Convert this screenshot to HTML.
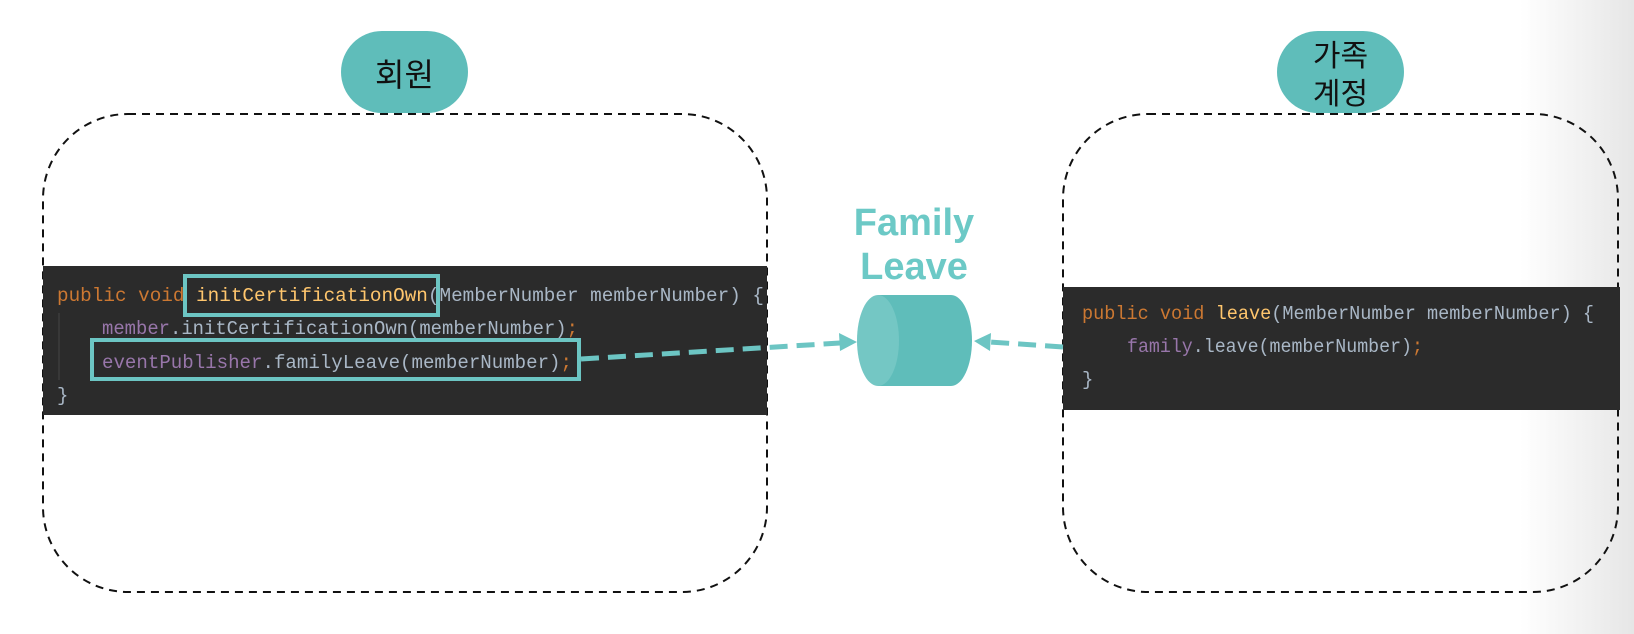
<!DOCTYPE html>
<html><head><meta charset="utf-8"><style>
html,body{margin:0;padding:0;background:#fff}
svg{display:block}
</style></head><body>
<svg width="1634" height="634" viewBox="0 0 1634 634" xmlns="http://www.w3.org/2000/svg">
<defs>
<linearGradient id="g" x1="0" x2="1" y1="0" y2="0">
<stop offset="0" stop-color="#fff"/><stop offset="1" stop-color="#e6e6e6"/>
</linearGradient>
</defs>
<rect x="1520" y="0" width="114" height="634" fill="url(#g)"/>
<!-- boxes -->
<rect x="43" y="114" width="724" height="478" rx="85" fill="none" stroke="#111" stroke-width="2" stroke-dasharray="8,6"/>
<rect x="1063" y="114" width="555" height="478" rx="85" fill="none" stroke="#111" stroke-width="2" stroke-dasharray="8,6"/>
<!-- pills -->
<rect x="341" y="31" width="127" height="82" rx="41" fill="#5fbdba"/>
<text x="404.5" y="86" text-anchor="middle" font-family="Noto Sans CJK KR, sans-serif" font-size="32" fill="#111">회원</text>
<rect x="1277" y="31" width="127" height="82" rx="41" fill="#5fbdba"/>
<text x="1340.5" y="66" text-anchor="middle" font-family="Noto Sans CJK KR, sans-serif" font-size="30" fill="#111">가족</text>
<text x="1340.5" y="104" text-anchor="middle" font-family="Noto Sans CJK KR, sans-serif" font-size="30" fill="#111">계정</text>
<!-- code panels -->
<rect x="43" y="266" width="724" height="149" fill="#2b2b2b"/>
<rect x="1063" y="287" width="557" height="123" fill="#2b2b2b"/>
<g font-family="Liberation Mono, monospace" font-size="19">
<text x="57" y="301" textLength="707" lengthAdjust="spacingAndGlyphs"><tspan fill="#cc7832">public void </tspan><tspan fill="#ffc66d">initCertificationOwn</tspan><tspan fill="#a9b7c6">(MemberNumber memberNumber) {</tspan></text>
<text x="102" y="334" textLength="476" lengthAdjust="spacingAndGlyphs"><tspan fill="#9876aa">member</tspan><tspan fill="#a9b7c6">.initCertificationOwn(memberNumber)</tspan><tspan fill="#cc7832">;</tspan></text>
<text x="102" y="368" textLength="470" lengthAdjust="spacingAndGlyphs"><tspan fill="#9876aa">eventPublisher</tspan><tspan fill="#a9b7c6">.familyLeave(memberNumber)</tspan><tspan fill="#cc7832">;</tspan></text>
<text x="57" y="401" fill="#a9b7c6">}</text>
<text x="1082" y="319" textLength="512" lengthAdjust="spacingAndGlyphs"><tspan fill="#cc7832">public void </tspan><tspan fill="#ffc66d">leave</tspan><tspan fill="#a9b7c6">(MemberNumber memberNumber) {</tspan></text>
<text x="1127" y="352" textLength="296" lengthAdjust="spacingAndGlyphs"><tspan fill="#9876aa">family</tspan><tspan fill="#a9b7c6">.leave(memberNumber)</tspan><tspan fill="#cc7832">;</tspan></text>
<text x="1082" y="385" fill="#a9b7c6">}</text>
</g>
<line x1="59" y1="313" x2="59" y2="380" stroke="#444" stroke-width="1"/>
<!-- highlights -->
<rect x="185" y="276" width="253" height="39" fill="none" stroke="#6cc5c3" stroke-width="4"/>
<rect x="92" y="340" width="487" height="39" fill="none" stroke="#6cc5c3" stroke-width="4"/>
<!-- title -->
<g font-family="Liberation Sans, sans-serif" font-weight="bold" font-size="38" fill="#6cc9c6" text-anchor="middle">
<text x="914" y="235">Family</text>
<text x="914" y="279">Leave</text>
</g>
<!-- cylinder -->
<path d="M878,295 L951,295 A21,45.5 0 0 1 951,386 L878,386 Z" fill="#5fbdba"/>
<ellipse cx="878" cy="340.5" rx="21" ry="45.5" fill="#74c7c4"/>
<!-- arrows -->
<line x1="581" y1="359" x2="840" y2="343" stroke="#6cc5c3" stroke-width="5" stroke-dasharray="18,9"/>
<polygon points="857,342 839,333 840,351" fill="#6cc5c3"/>
<line x1="1063" y1="347" x2="990" y2="342" stroke="#6cc5c3" stroke-width="5" stroke-dasharray="18,9"/>
<polygon points="974,341 991,333 990,351" fill="#6cc5c3"/>
</svg>
</body></html>
